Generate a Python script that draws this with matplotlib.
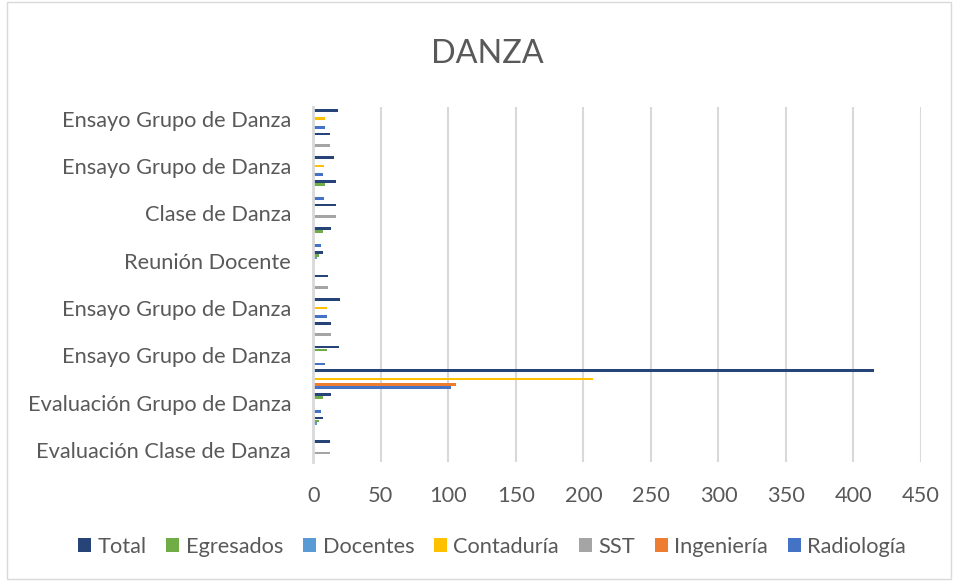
import numpy as np
import matplotlib
matplotlib.use("Agg")
import matplotlib.pyplot as plt
from matplotlib.patches import Rectangle

# categories top -> bottom; Excel only prints every other label
categories = ["Ensayo Grupo de Danza", "", "Ensayo Grupo de Danza", "",
              "Clase de Danza", "", "Reunión Docente", "",
              "Ensayo Grupo de Danza", "", "Ensayo Grupo de Danza", "",
              "Evaluación Grupo de Danza", "", "Evaluación Clase de Danza"]

series_names = ["Total", "Egresados", "Docentes", "Contaduría", "SST",
                "Ingeniería", "Radiología"]
series_colors = ["#264478", "#70AD47", "#5B9BD5", "#FFC000", "#A5A5A5",
                 "#ED7D31", "#4472C4"]

total = [18, 12, 15, 17, 17, 13, 7, 11, 20, 13, 19, 415, 13, 7, 12]
egresados = [0, 0, 0, 9, 0, 7, 4, 0, 0, 0, 10, 0, 7, 4, 0]
docentes = [0, 0, 0, 0, 0, 0, 3, 0, 0, 0, 0, 0, 0, 3, 0]
contaduria = [9, 0, 8, 0, 0, 0, 0, 0, 10, 0, 0, 207, 0, 0, 0]
sst = [0, 12, 0, 0, 17, 0, 0, 11, 0, 13, 0, 0, 0, 0, 12]
ingenieria = [0, 0, 0, 0, 0, 0, 0, 0, 0, 0, 0, 106, 0, 0, 0]
radiologia = [9, 0, 7, 8, 0, 6, 0, 0, 10, 0, 9, 102, 6, 0, 0]

series = [total, egresados, docentes, contaduria, sst, ingenieria, radiologia]

FONT = "Lato"
GRAY = "#595959"
FS = 15.7

fig = plt.figure(figsize=(9.59, 5.82), dpi=100)
ax = fig.add_axes([0.3267, 0.2062, 0.6337, 0.61])

y = np.arange(len(categories))
step = 0.118
for j, (vals, name, col) in enumerate(zip(series, series_names, series_colors)):
    ax.barh(y + (j - 3) * step, vals, height=step * 0.95, color=col,
            label=name, linewidth=0, zorder=3)

ax.set_xlim(0, 450)
ax.set_ylim(len(categories) - 0.5, -0.5)
ax.set_xticks(np.arange(0, 451, 50))
ax.set_yticks(y)
ax.set_yticklabels(categories)
ax.tick_params(length=0, labelsize=FS, labelcolor=GRAY)
ax.tick_params(axis="x", pad=17)
ax.tick_params(axis="y", pad=16)
for lab in ax.get_xticklabels() + ax.get_yticklabels():
    lab.set_fontfamily(FONT)

ax.grid(axis="x", color="#D9D9D9", lw=1.5, zorder=0)
for s in ("top", "right", "bottom"):
    ax.spines[s].set_visible(False)
ax.spines["left"].set_color("#D9D9D9")
ax.spines["left"].set_linewidth(2)
ax.spines["left"].set_zorder(4)

fig.text(0.508, 0.908, "DANZA", ha="center", va="center", fontsize=23.3,
         color=GRAY, family=FONT)

fig.legend(loc="center", bbox_to_anchor=(0.513, 0.06), ncol=7, frameon=False,
           prop={"family": FONT, "size": FS}, labelcolor=GRAY,
           handlelength=0.6, handleheight=0.6, handletextpad=0.3,
           columnspacing=0.9)

fig.patches.append(Rectangle((0.007, 0.006), 0.985, 0.99, transform=fig.transFigure,
                             fill=False, edgecolor="#D9D9D9", lw=1))

fig.savefig("out.png", dpi=100)
